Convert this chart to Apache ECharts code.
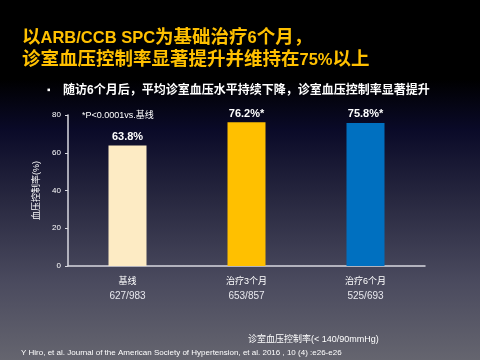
<!DOCTYPE html>
<html><head><meta charset="utf-8">
<script src="https://cdn.jsdelivr.net/npm/echarts@6/dist/echarts.min.js"></script>
<style>html,body{margin:0;padding:0;background:#000;}#c{width:480px;height:360px;}</style>
</head><body><div id="c"></div>
<script>
const categories = ['基线', '治疗3个月', '治疗6个月'];
const counts = ['627/983', '653/857', '525/693'];
const values = [63.8, 76.2, 75.8];
const valueLabels = ['63.8%', '76.2%*', '75.8%*'];
const barColors = ['#FDEBC4', '#FFC000', '#0070C0'];
const yTicks = [0, 20, 40, 60, 80];

const F = '"Liberation Sans","Noto Sans CJK SC",sans-serif';
const chart = echarts.init(document.getElementById('c'));
chart.setOption({
  backgroundColor: {
    type: 'linear', x: 0, y: 0, x2: 0, y2: 1,
    colorStops: [
      {offset: 0, color: '#000000'},
      {offset: 0.22, color: '#000000'},
      {offset: 0.36, color: '#0a0a28'},
      {offset: 0.55, color: '#27273f'},
      {offset: 0.78, color: '#4a4a5e'},
      {offset: 1, color: '#65656f'}
    ]
  },
  animation: false,
  grid: {left: 68, right: 55, top: 115, bottom: 94},
  title: [
    {text: '{c|以}{l|ARB/CCB SPC}{c|为基础治疗}{l|6}{c|个月，}\n{c|诊室血压控制率显著提升并维持在}{l|75%}{c|以上}', left: 17, top: 22,
     textStyle: {color: '#FFC000', fontSize: 18, fontWeight: 'bold', fontFamily: F, lineHeight: 22,
       rich: {c: {color: '#FFC000', fontSize: 18.5, fontWeight: 'bold', fontFamily: F, lineHeight: 22},
              l: {color: '#FFC000', fontSize: 16.5, fontWeight: 'bold', fontFamily: F, lineHeight: 22}}}},
    {text: '▪', left: 42, top: 80, textStyle: {color: '#fff', fontSize: 10, fontFamily: F}},
    {text: '随访6个月后，平均诊室血压水平持续下降，诊室血压控制率显著提升', left: 58, top: 80,
     textStyle: {color: '#fff', fontSize: 12, fontWeight: 'bold', fontFamily: F}},
    {text: '*P<0.0001vs.基线', left: 77, top: 106, textStyle: {color: '#fff', fontSize: 9, fontWeight: 'normal', fontFamily: F}},
    {text: '诊室血压控制率(< 140/90mmHg)', left: 243, top: 330, textStyle: {color: '#fff', fontSize: 9, fontWeight: 'normal', fontFamily: F}},
    {text: 'Y Hiro, et al. Journal of the American Society of Hypertension, et al. 2016 , 10 (4) :e26-e26', left: 16, top: 344,
     textStyle: {color: '#fff', fontSize: 8, fontWeight: 'normal', fontFamily: F}}
  ],
  xAxis: {
    type: 'category', data: categories,
    axisLine: {lineStyle: {color: '#d8d8e0', width: 1.5}},
    axisTick: {inside: true, length: 3, lineStyle: {color: '#d8d8e0'}},
    axisLabel: {
      margin: 9, interval: 0, color: '#fff', fontFamily: F,
      formatter: (v, i) => '{a|' + v + '}\n{b|' + counts[i] + '}',
      rich: {a: {fontSize: 9, color: '#fff', lineHeight: 14, fontFamily: F}, b: {fontSize: 10, color: '#e8e8ee', lineHeight: 14, fontFamily: F}}
    }
  },
  yAxis: {
    type: 'value', min: 0, max: 80, interval: 20,
    name: '血压控制率(%)', nameLocation: 'middle', nameGap: 27, nameRotate: 90,
    nameTextStyle: {color: '#fff', fontSize: 9, fontFamily: F},
    splitLine: {show: false},
    axisLine: {show: true, lineStyle: {color: '#d8d8e0', width: 1.5}},
    axisTick: {show: true, length: 3, lineStyle: {color: '#d8d8e0'}},
    axisLabel: {color: '#fff', fontSize: 8, margin: 7, fontFamily: F,
      formatter: v => yTicks.includes(v) ? String(v) : ''}
  },
  series: [{
    type: 'bar', barWidth: 38,
    data: values.map((v, i) => ({value: v, itemStyle: {color: barColors[i]},
      label: {formatter: valueLabels[i]}})),
    label: {show: true, position: 'top', distance: 3, color: '#fff', fontSize: 11, fontWeight: 'bold', fontFamily: F}
  }]
});
</script></body></html>
